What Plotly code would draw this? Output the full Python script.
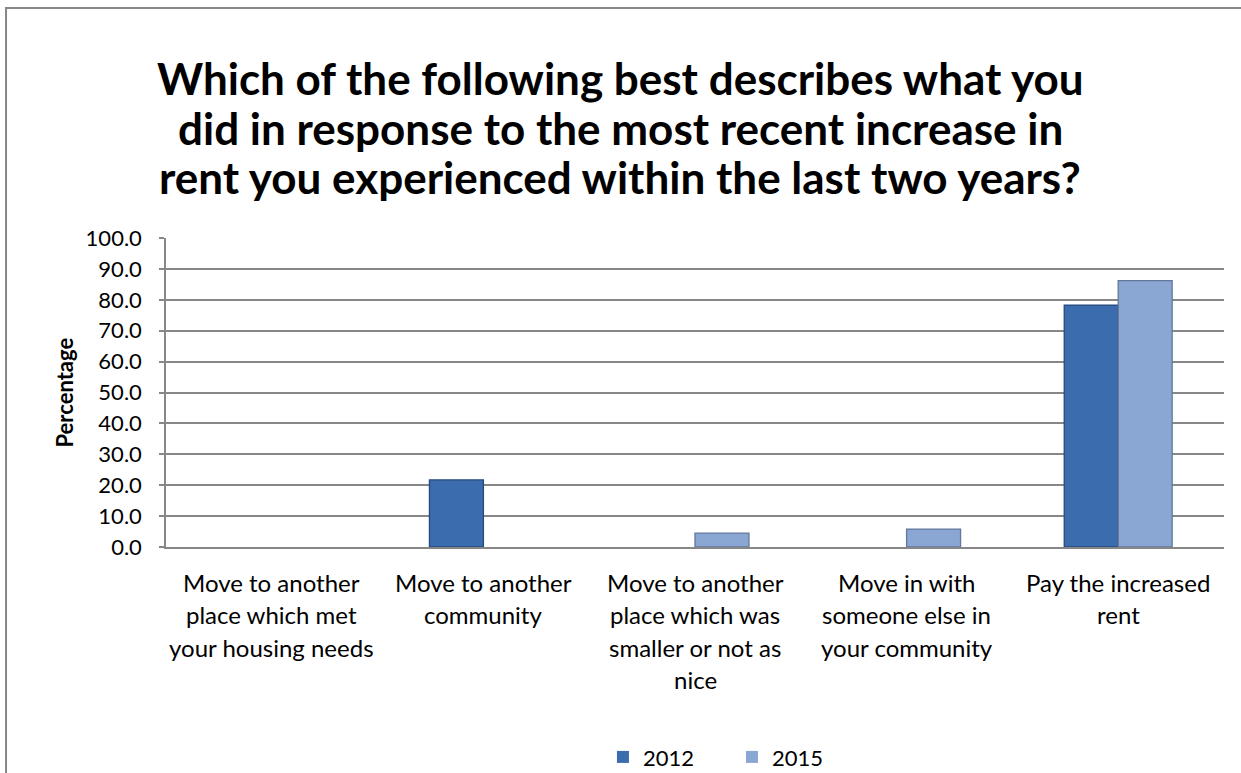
import plotly.graph_objects as go

# Survey responses to the most recent rent increase (percent of respondents)
categories = [
    "Move to another place which met your housing needs",
    "Move to another community",
    "Move to another place which was smaller or not as nice",
    "Move in with someone else in your community",
    "Pay the increased rent",
]
category_lines = [
    ["Move to another", "place which met", "your housing needs"],
    ["Move to another", "community"],
    ["Move to another", "place which was", "smaller or not as", "nice"],
    ["Move in with", "someone else in", "your community"],
    ["Pay the increased", "rent"],
]
values_2012 = [0.0, 21.7, 0.0, 0.0, 78.3]
values_2015 = [0.0, 0.0, 4.5, 5.8, 86.2]
y_ticks = [0, 10, 20, 30, 40, 50, 60, 70, 80, 90, 100]
title_lines = [
    "Which of the following best describes what you",
    "did in response to the most recent increase in",
    "rent you experienced within the last two years?",
]

FONT = "Lato"
GRID = "#878787"


def outline_widths(values, width):
    # no outline on empty bars so they leave no trace on the baseline
    return [width if v > 0 else 0 for v in values]


fig = go.Figure()
fig.add_trace(go.Bar(
    x=categories, y=values_2012, name="2012",
    marker=dict(color="#3a6cae",
                line=dict(color="#264a7c", width=outline_widths(values_2012, 1.3))),
))
fig.add_trace(go.Bar(
    x=categories, y=values_2015, name="2015",
    marker=dict(color="#8aa6d2",
                line=dict(color="#62789a", width=outline_widths(values_2015, 1.3))),
))

annotations = []

# Chart title, one line per annotation for tighter line spacing
page_center = (620 - 166) / 1058
for i, line in enumerate(title_lines):
    annotations.append(dict(
        x=page_center, xref="paper", y=1, yref="paper",
        text="<b>" + line + "</b>", showarrow=False,
        xanchor="center", yanchor="middle",
        yshift=160 - i * 49.5,
        font=dict(family=FONT, size=44, color="#000000"),
    ))

# Category labels drawn line by line for the wider line spacing
for cat, lines in zip(categories, category_lines):
    for i, line in enumerate(lines):
        annotations.append(dict(
            x=cat, xref="x", y=0, yref="paper",
            text=line, showarrow=False,
            xanchor="center", yanchor="middle",
            yshift=-(35 + i * 32.5),
            font=dict(family=FONT, size=24, color="#000000"),
        ))

# Vertical axis title
annotations.append(dict(
    x=(64 - 166) / 1058, xref="paper", y=0.5, yref="paper",
    text="<b>Percentage</b>", showarrow=False, textangle=-90,
    xanchor="center", yanchor="middle",
    font=dict(family=FONT, size=22, color="#000000"),
))

fig.update_layout(
    width=1241, height=773,
    paper_bgcolor="white", plot_bgcolor="white",
    margin=dict(l=166, r=17, t=238, b=226, autoexpand=False),
    barmode="group", bargap=0.49, bargroupgap=0.0,
    showlegend=True,
    legend=dict(
        orientation="h", x=0.413, xanchor="left",
        y=-0.68, yanchor="middle",
        font=dict(family=FONT, size=22, color="#000000"),
        entrywidth=84, traceorder="normal",
    ),
    annotations=annotations,
    shapes=[dict(
        type="rect", xref="paper", yref="paper",
        x0=-0.1512, x1=1.3, y0=-1.2, y1=1.744,
        line=dict(color=GRID, width=2), fillcolor="rgba(0,0,0,0)",
        layer="below",
    )],
    font=dict(family=FONT, color="#000000"),
)

fig.update_xaxes(
    showticklabels=False, showgrid=False,
    showline=True, linecolor=GRID, linewidth=1.5,
    ticks="", fixedrange=True,
)
fig.update_yaxes(
    range=[0, 100], tickvals=y_ticks, tickformat=".1f",
    showgrid=True, gridcolor=GRID, gridwidth=1.5,
    showline=True, linecolor=GRID, linewidth=1.5,
    ticks="outside", ticklen=5, tickcolor=GRID, tickwidth=1.5,
    ticklabelstandoff=13,
    tickfont=dict(family=FONT, size=22, color="#000000"),
    zeroline=False,
)

fig.write_html("out.html")
